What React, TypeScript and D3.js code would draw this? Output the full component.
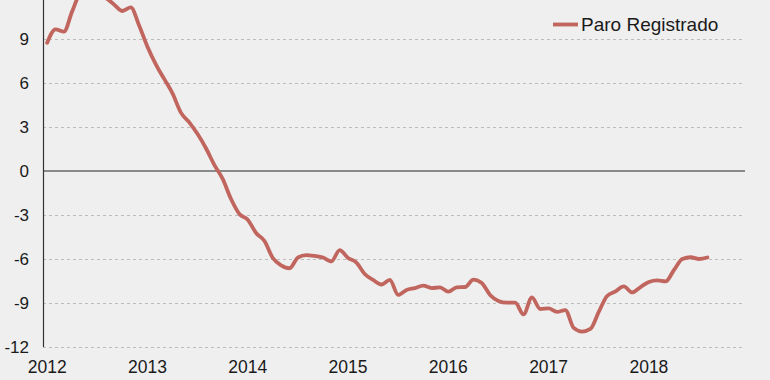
import React from "react";
import * as d3 from "d3";

const yearLabels = ["2012", "2013", "2014", "2015", "2016", "2017", "2018"];
const yTicks = [-12, -9, -6, -3, 0, 3, 6, 9];
const seriesName = "Paro Registrado";
// monthly values, Jan 2012 – Aug 2018
const paroValues = [
  8.75, 9.66, 9.5, 10.9, 12.1, 12.2, 12.0, 11.8, 11.36, 10.91, 11.15, 9.92,
  8.47, 7.27, 6.28, 5.29, 3.98, 3.32, 2.52, 1.55, 0.42, -0.54, -1.91, -2.93,
  -3.32, -4.23, -4.77, -5.93, -6.43, -6.63, -5.9, -5.73, -5.79, -5.9, -6.17, -5.39,
  -5.93, -6.24, -7.02, -7.43, -7.74, -7.43, -8.45, -8.11, -7.98, -7.81, -7.98, -7.94,
  -8.23, -7.93, -7.91, -7.4, -7.63, -8.45, -8.86, -8.98, -8.98, -9.78, -8.62, -9.41,
  -9.37, -9.61, -9.48, -10.7, -10.95, -10.77, -9.61, -8.52, -8.21, -7.87, -8.28, -7.91,
  -7.57, -7.46, -7.53, -6.75, -6.0, -5.88, -6.0, -5.9,
];

const W = 770;
const H = 380;
const LINE_COLOR = "#c1665e";
const FONT = "'Liberation Sans', Arial, sans-serif";

export default function App() {
  const x = d3.scaleLinear().domain([-0.5, 83.5]).range([43, 745]);
  const y = d3.scaleLinear().domain([-12, 12]).range([347, -5]);
  const line = d3
    .line<number>()
    .x((_, i) => x(i))
    .y((d) => y(d))
    .curve(d3.curveMonotoneX);

  return (
    <svg
      width={W}
      height={H}
      style={{ position: "absolute", left: 0, top: 0, background: "#efefef" }}
    >
      <rect x={0} y={0} width={W} height={H} fill="#efefef" />
      {yTicks
        .filter((t) => t !== 0)
        .map((t) => (
          <line
            key={"g" + t}
            x1={x(-0.5)}
            x2={745}
            y1={Math.round(y(t)) + 0.5}
            y2={Math.round(y(t)) + 0.5}
            stroke="#bcbcbc"
            strokeWidth={1}
            strokeDasharray="3,3"
          />
        ))}
      <line
        x1={x(-0.5)}
        x2={745}
        y1={y(0)}
        y2={y(0)}
        stroke="#8a8a8a"
        strokeWidth={2}
      />
      <line
        x1={x(-0.5) + 0.5}
        x2={x(-0.5) + 0.5}
        y1={0}
        y2={y(-12)}
        stroke="#333"
        strokeWidth={1.2}
      />
      {yTicks.map((t) => (
        <text
          key={"y" + t}
          x={29}
          y={y(t)}
          dy="0.35em"
          textAnchor="end"
          fontFamily={FONT}
          fontSize={17}
          fill="#1a1a1a"
        >
          {t}
        </text>
      ))}
      {yearLabels.map((lab, i) => (
        <text
          key={lab}
          x={x(i * 12)}
          y={372.5}
          textAnchor="middle"
          fontFamily={FONT}
          fontSize={17.5}
          fill="#1a1a1a"
        >
          {lab}
        </text>
      ))}
      <path
        d={line(paroValues) || ""}
        fill="none"
        stroke={LINE_COLOR}
        strokeWidth={3.8}
        strokeLinejoin="round"
        strokeLinecap="round"
      />
      <line x1={553} x2={578} y1={24.5} y2={24.5} stroke={LINE_COLOR} strokeWidth={3.8} />
      <text x={581} y={30.5} fontFamily={FONT} fontSize={19} fill="#1a1a1a">
        {seriesName}
      </text>
    </svg>
  );
}
